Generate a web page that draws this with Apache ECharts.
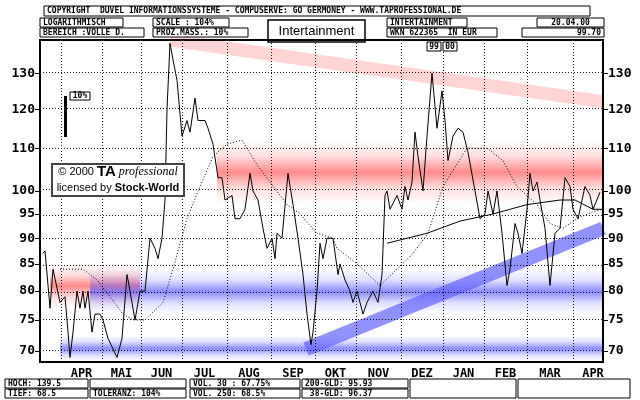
<!DOCTYPE html>
<html><head><meta charset="utf-8">
<script src="https://cdn.jsdelivr.net/npm/echarts@6/dist/echarts.min.js"></script>
<style>html,body{margin:0;padding:0;background:#fff}#c{width:640px;height:400px}</style>
</head><body><div id="c"></div>
<script>
// x = trading-day index, y = price (EUR)
const monthBounds = [10.5,31,50.5,71,93.5,115.5,137.5,158,180.5,201.5,222,243.5,266.5,286.5];
const monthLabels = ['APR','MAI','JUN','JUL','AUG','SEP','OKT','NOV','DEZ','JAN','FEB','MAR','APR'];
const yTicks = [70,75,80,85,90,95,100,110,120,130];
const price = [[1.5,87],[2.5,87.5],[5,77],[6.5,84],[10,78],[12.5,79],[14,73],[15,69],[16.5,73],[18.5,80],[20,77],[21.5,80],[22.5,77],[24,80],[26,73],[27.5,76],[30,76],[31.5,75],[34,72],[38.5,69],[41,72],[43.5,83],[45,80],[47.5,75],[50,80],[52.5,80],[55,90],[57.5,88],[59,86],[61,90],[62.5,98],[63.5,120],[65,139],[66.5,134],[68.5,128],[71,113],[73.5,117],[75,114],[77.5,123],[79,117],[82.5,117],[84,115],[86.5,111],[89,103],[91,103],[92.5,98],[96,99],[97.5,94],[100,94],[102.5,96],[105,104],[106.5,100],[109,98],[111.5,92],[113.5,88],[116,90],[117.5,86],[118.5,91],[121,90],[124,104],[126.5,97],[129,90],[131.5,83],[133.5,76],[135.5,71],[136.5,73],[138.5,80],[140,89],[141.5,86],[143.5,90],[146.5,90],[149,83],[150,85],[152.5,82],[155,80],[156.5,78],[158.5,80],[161.5,76],[163.5,78],[166.5,80],[169,78],[171,83],[172.5,99],[173.5,100],[175,96],[178.5,99],[181,96],[182.5,101],[184,98],[186,102],[187.5,114],[189,108],[191.5,100],[193.5,113],[196,130],[198.5,115],[201,125],[202.5,117],[204,107],[206.5,113],[209,115],[211.5,114],[214,109],[217.5,100],[220,94],[222.5,95],[224,100],[226.5,95],[228.5,100],[231,91],[233.5,81],[235,84],[237.5,93],[239,91],[241,87],[243.5,96],[245,104],[246.5,100],[248.5,102],[250,98],[252.5,92],[255,81],[257.5,91],[260,92],[262.5,103],[265,101],[266.5,96],[269,94],[272.5,101],[275,99],[276.5,96],[280,99.7]];
const ma38 = [[10,84],[21.5,84],[28.5,82],[35,79],[41.5,76],[46.5,75],[52.5,75],[61.5,78],[66.5,84],[73.5,94],[80,101],[86.5,108],[93.5,111],[101,112],[108.5,106],[115,102],[123.5,97],[130,95],[138.5,91],[146.5,90],[148.5,88],[158.5,85],[170,81],[178.5,84],[186.5,87],[194,91],[201.5,101],[213.5,110],[223.5,110],[231.5,107],[238.5,101],[248.5,97],[255,93],[261.5,92],[268.5,94],[276.5,95.5],[281.5,96]];
const ma200 = [[173.5,89],[193.5,91],[210,93.5],[226.5,95],[243.5,97],[260,98],[267.5,98],[276.5,96],[281.5,96]];
const redTrend = [[65,140],[281.5,122]];
const blueTrend = [[133,70.3],[281.5,92]];
const redBands = [[88.5,281.5,97,112],[5,50,77,85]];
const blueBands = [[25,281.5,76,84],[10,281.5,67.5,72.5]];

const L = v => Math.log(v);
const tx = a => a.map(p => [p[0], L(p[1])]);
const mids = monthLabels.map((m,i)=>(monthBounds[i]+monthBounds[i+1])/2);
const XMAX = 281.5;
const font = '"DejaVu Sans Mono", monospace';
const grad = (c) => ({type:'linear',x:0,y:0,x2:0,y2:1,colorStops:[
  {offset:0,color:c.replace('A','0')},{offset:0.25,color:c.replace('A','0.2')},{offset:0.5,color:c.replace('A','0.7')},
  {offset:0.75,color:c.replace('A','0.2')},{offset:1,color:c.replace('A','0')}]});

const chart = echarts.init(document.getElementById('c'));
function box(x,y,w,h,text,opt){
  opt=opt||{};
  return {type:'group',z:50,children:[
    {type:'rect',z:50,shape:{x:x,y:y,width:w,height:h},style:{fill:'#fff',stroke:'#000',lineWidth:opt.lw||1}},
    {type:'text',z:51,x:opt.align==='right'?x+w-3:(opt.align==='center'?x+w/2:x+3),y:y+h/2,style:{text:text,font:(opt.font||('bold 8px '+font)),fill:'#000',align:opt.align||'left',verticalAlign:'middle'}}
  ]};
}
const graphics = [
  box(44,6,546,10,'COPYRIGHT  DUVEL INFORMATIONSSYSTEME - COMPUSERVE: GO GERMONEY - WWW.TAPROFESSIONAL.DE'),
  box(40,18,83,9,'LOGARITHMISCH'),
  box(40,28,104,9,'BEREICH :VOLLE D.'),
  box(153,18,76,9,'SCALE : 104%'),
  box(153,28,95,9,'PROZ.MASS.: 10%'),
  box(268,20,97,22,'Intertainment',{align:'center',font:'13px "Liberation Sans", Arial',lw:1.5}),
  box(387,18,80,9,'INTERTAINMENT'),
  box(387,28,110,9,'WKN 622365  IN EUR'),
  box(537,18,67,9,'20.04.00',{align:'center'}),
  box(522,28,82,9,'99.70',{align:'right'}),
  box(427,42,14,9,'99',{align:'center'}),
  box(443,42,14,9,'00',{align:'center'}),
  box(70,92,20,8,'10%',{align:'center'}),
  {type:'rect',z:50,shape:{x:64,y:96,width:3,height:41},style:{fill:'#000'}},
  {type:'rect',z:50,shape:{x:52,y:164,width:132,height:32},style:{fill:'#fff',stroke:'#444',lineWidth:2}},
  {type:'text',z:51,x:118,y:172,style:{text:'© 2000 {b|TA} {i|professional}',font:'11px "Liberation Sans"',align:'center',verticalAlign:'middle',fill:'#000',rich:{b:{font:'bold 15px "Liberation Sans"'},i:{font:'italic 12px "Liberation Serif"'}}}},
  {type:'text',z:51,x:118,y:188,style:{text:'licensed by {b|Stock-World}',font:'11px "Liberation Sans"',align:'center',verticalAlign:'middle',fill:'#000',rich:{b:{font:'bold 11px "Liberation Sans"'}}}},
  box(5,379,83,9,'HOCH: 139.5'),
  box(5,389,83,9,'TIEF: 68.5'),
  box(90,379,96,9,''),
  box(90,389,96,9,'TOLERANZ: 104%'),
  box(190,379,110,9,'VOL. 30 : 67.75%'),
  box(190,389,110,9,'VOL. 250: 68.5%'),
  box(302,379,106,9,'200-GLD: 95.93'),
  box(302,389,106,9,' 38-GLD: 96.37'),
  box(410,379,106,19,''),
  box(518,379,112,19,''),
  {type:'rect',z:100,shape:{x:40,y:40,width:563,height:322},style:{fill:'none',stroke:'#000',lineWidth:2}}
];

const gridLines = monthBounds.slice(0,13).map(b=>({xAxis:b})).concat(yTicks.map(v=>({yAxis:L(v)})));
chart.setOption({
  animation:false,
  grid:{left:40,right:37,top:40,bottom:38},
  xAxis:{type:'value',min:0,max:XMAX,
    axisLine:{show:false},splitLine:{show:false},axisTick:{show:false},
    axisLabel:{customValues:mids,formatter:(v)=>{const i=mids.findIndex(m=>Math.abs(m-v)<0.01);return i>=0?monthLabels[i]:'';},color:'#000',fontWeight:'bold',fontFamily:font,fontSize:12,margin:6}},
  yAxis:[0,1].map(i=>({type:'value',min:L(68.3),max:L(140),position:i?'right':'left',
    axisLine:{show:false},splitLine:{show:false},
    axisTick:{show:true,customValues:yTicks.map(L),length:5,lineStyle:{color:'#000'}},
    axisLabel:{customValues:yTicks.map(L),formatter:v=>String(Math.round(Math.exp(v))),color:'#000',fontWeight:'bold',fontFamily:font,fontSize:13,margin:5}})),
  graphic:graphics,
  series:[
    {type:'line',data:[],silent:true,
      markArea:{silent:true,data:redBands.map(b=>[{xAxis:b[0],yAxis:L(b[2]),itemStyle:{color:grad('rgba(255,90,90,A)')}},{xAxis:b[1],yAxis:L(b[3])}]).concat(
        blueBands.map(b=>[{xAxis:b[0],yAxis:L(b[2]),itemStyle:{color:grad('rgba(90,90,255,A)')}},{xAxis:b[1],yAxis:L(b[3])}]))},
      markLine:{silent:true,symbol:'none',label:{show:false},lineStyle:{color:'#000',type:[1,2],width:1,opacity:0.9},data:gridLines}},
    {type:'line',data:tx(redTrend),symbol:'none',silent:true,lineStyle:{color:'rgba(255,170,170,0.5)',width:13,cap:'butt'}},
    {type:'line',data:tx(blueTrend),symbol:'none',silent:true,lineStyle:{color:'rgba(100,100,255,0.7)',width:14,cap:'butt'}},
    {type:'line',data:tx(ma38),symbol:'none',lineStyle:{color:'#000',width:1,type:[1,2]}},
    {type:'line',data:tx(ma200),symbol:'none',lineStyle:{color:'#000',width:1}},
    {type:'line',data:tx(price),symbol:'none',lineStyle:{color:'#000',width:1}}
  ]
});
</script></body></html>
